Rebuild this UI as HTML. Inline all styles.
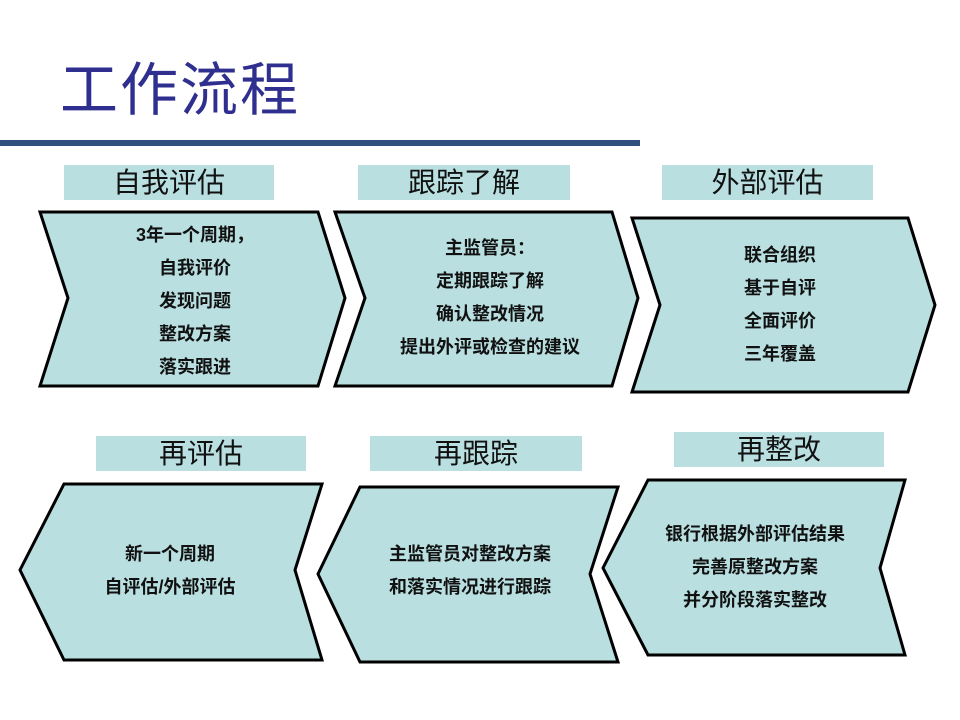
<!DOCTYPE html>
<html><head><meta charset="utf-8"><style>
body{margin:0;width:960px;height:720px;background:#fff;overflow:hidden;position:relative;font-family:"Liberation Sans","Noto Sans CJK SC",sans-serif}
.t{position:absolute;left:60px;top:56px;font-size:58px;color:#2f2f8f;letter-spacing:2px;line-height:70px}
.bar{position:absolute;left:0;top:140px;width:640px;height:6px;background:#2f4f7f}
.h{position:absolute;height:35px;background:#b9dfe1;font-size:28px;text-align:center;line-height:35px;color:#111}
svg{position:absolute;left:0;top:0}
.c{position:absolute;text-align:center;font-size:18px;font-weight:bold;color:#111;line-height:33px}
</style></head><body>
<div class="t">工作流程</div>
<div class="bar"></div>
<div class="h" style="left:64px;top:165px;width:210px">自我评估</div>
<div class="h" style="left:358px;top:165px;width:212px">跟踪了解</div>
<div class="h" style="left:662px;top:165px;width:211px">外部评估</div>
<div class="h" style="left:96px;top:436px;width:210px">再评估</div>
<div class="h" style="left:370px;top:436px;width:212px">再跟踪</div>
<div class="h" style="left:674px;top:432px;width:210px">再整改</div>
<svg width="960" height="720" fill="#b9dfe1" stroke="#000" stroke-width="3" stroke-linejoin="miter">
<polygon points="40,212 318,212 345,298 318,386 40,386 68,298"/>
<polygon points="335,212 612,212 638,298 612,386 335,386 365,298"/>
<polygon points="632,218 908,218 935,305 908,392 632,392 660,305"/>
<polygon points="64,484 322,484 295,570 322,660 64,660 20,570"/>
<polygon points="360,487 618,487 590,574 618,662 360,662 318,574"/>
<polygon points="648,480 905,480 880,568 905,655 648,655 603,568"/>
</svg>
<div class="c" style="left:90px;top:219px;width:210px">3年一个周期，<br>自我评价<br>发现问题<br>整改方案<br>落实跟进</div>
<div class="c" style="left:370px;top:232px;width:240px">主监管员：<br>定期跟踪了解<br>确认整改情况<br>提出外评或检查的建议</div>
<div class="c" style="left:680px;top:239px;width:200px">联合组织<br>基于自评<br>全面评价<br>三年覆盖</div>
<div class="c" style="left:60px;top:538px;width:220px">新一个周期<br>自评估/外部评估</div>
<div class="c" style="left:350px;top:538px;width:240px">主监管员对整改方案<br>和落实情况进行跟踪</div>
<div class="c" style="left:635px;top:518px;width:240px">银行根据外部评估结果<br>完善原整改方案<br>并分阶段落实整改</div>
</body></html>
